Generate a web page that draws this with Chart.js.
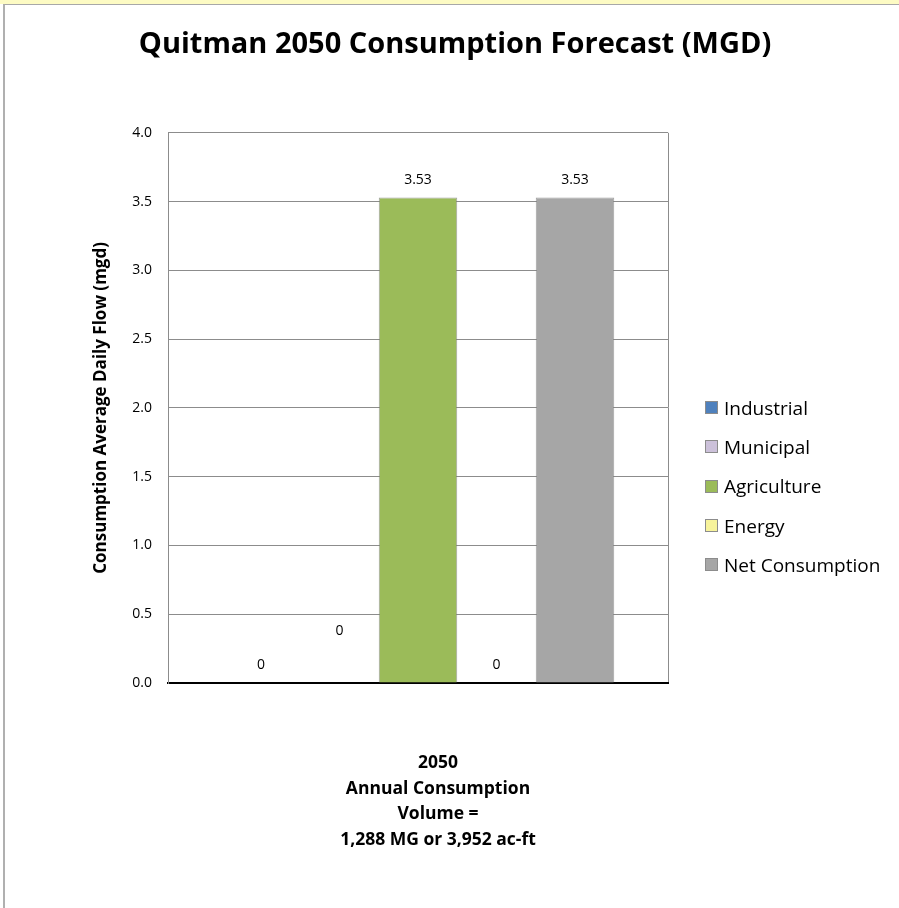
<!DOCTYPE html>
<html>
<head>
<meta charset="utf-8">
<script src="https://cdn.jsdelivr.net/npm/chart.js@4/dist/chart.umd.min.js"></script>
<style>
    html, body { margin: 0; padding: 0; background: #fff; }
    #wrap { position: relative; width: 899px; height: 908px; overflow: hidden; font-family: "Open Sans", sans-serif; }
    #strip { position: absolute; left: 0; top: 0; width: 899px; height: 4px; background: #fdfbc4; }
    #frame { position: absolute; left: 3px; top: 4px; width: 900px; height: 910px; border-left: 2px solid #b0b0b0; border-top: 1px solid #a8a8a8; }
    #grafico { position: absolute; left: 0; top: 0; }
    #legenda { position: absolute; left: 705px; top: 388px; }
    .item { height: 39.3px; display: flex; align-items: center; font-size: 19px; color: #000; white-space: nowrap; }
    .caixa { width: 13px; height: 13px; border: 1px solid #8c8c8c; margin-right: 6px; box-sizing: border-box; }
</style>
</head>
<body>
<div id="wrap">
    <div id="strip"></div>
    <div id="frame"></div>
    <canvas id="grafico" width="899" height="908"></canvas>
    <div id="legenda"></div>
</div>
<script>
// Dados
const categorias = [['2050', 'Annual Consumption', 'Volume =', '1,288 MG or 3,952 ac-ft']];
const series = ['Industrial', 'Municipal', 'Agriculture', 'Energy', 'Net Consumption'];
const valores = [[0], [0], [3.53], [0], [3.53]];
const cores = ['#4f81bd', '#ccc1da', '#9bbb59', '#f7f39b', '#a6a6a6'];
const yTicks = [0, 0.5, 1.0, 1.5, 2.0, 2.5, 3.0, 3.5, 4.0];

// Deslocamento vertical dos rótulos de valor (o de Municipal fica mais alto no original)
const elevacaoRotulo = [18, 52, 17, 18, 17];
const FONTE = 'Open Sans';

// Plugin simples para escrever o valor acima de cada barra.
const rotulosValor = {
    id: 'rotulosValor',
    afterDatasetsDraw(chart) {
        const ctx = chart.ctx;
        ctx.save();
        ctx.font = '14px "' + FONTE + '"';
        ctx.fillStyle = '#000';
        ctx.textAlign = 'center';
        ctx.textBaseline = 'middle';
        chart.data.datasets.forEach((ds, i) => {
            chart.getDatasetMeta(i).data.forEach((bar, j) => {
                ctx.fillText(String(ds.data[j]), bar.x, bar.y - elevacaoRotulo[i]);
            });
        });
        ctx.restore();
    }
};

const ctx = document.getElementById('grafico').getContext('2d');
new Chart(ctx, {
    type: 'bar',
    data: {
        labels: categorias,
        datasets: series.map((nome, i) => ({
            label: nome,
            data: valores[i],
            backgroundColor: cores[i],
            borderColor: 'rgba(120, 120, 120, 0.7)',
            borderWidth: 1,
            categoryPercentage: 0.785,
            barPercentage: 1.0
        }))
    },
    options: {
        responsive: false,
        animation: false,
        layout: { padding: { left: 11, right: 0, top: 0, bottom: 0 } },
        plugins: {
            legend: { display: false },
            tooltip: { enabled: false },
            title: {
                display: true,
                text: 'Quitman 2050 Consumption Forecast (MGD)',
                color: '#000',
                font: { family: FONTE, size: 29, weight: 'bold', lineHeight: 1.2 },
                padding: { top: 27, bottom: 71 }
            }
        },
        scales: {
            x: {
                grid: { color: '#8c8c8c', lineWidth: 1, drawTicks: false },
                border: { color: '#000', width: 2 },
                ticks: {
                    color: '#000',
                    font: { family: FONTE, size: 17.5, weight: 'bold', lineHeight: 1.47 },
                    padding: 67,
                    labelOffset: 20,
                    maxRotation: 0
                },
                afterFit(scale) { scale.height = 225; }
            },
            y: {
                min: 0,
                max: 4,
                afterBuildTicks(scale) { scale.ticks = yTicks.map(v => ({ value: v })); },
                grid: { color: '#8c8c8c', lineWidth: 1, drawTicks: false },
                border: { color: '#8c8c8c', width: 1 },
                ticks: {
                    color: '#000',
                    font: { family: FONTE, size: 14 },
                    padding: 16,
                    callback: v => v.toFixed(1)
                },
                title: {
                    display: true,
                    text: 'Consumption Average Daily Flow (mgd)',
                    color: '#000',
                    font: { family: FONTE, size: 17, weight: 'bold', lineHeight: 1.2 },
                    padding: { top: 80, bottom: 0 }
                },
                afterFit(scale) { scale.width = 157; }
            },
            // eixo vazio à direita só para reservar o espaço da legenda
            espaco: {
                type: 'linear',
                position: 'right',
                display: true,
                grid: { display: false, drawTicks: false },
                border: { display: false },
                ticks: { display: false },
                afterFit(scale) { scale.width = 231; }
            }
        }
    },
    plugins: [rotulosValor]
});

// Legenda em HTML, à direita do gráfico
const legenda = document.getElementById('legenda');
series.forEach((nome, i) => {
    const item = document.createElement('div');
    item.className = 'item';
    const caixa = document.createElement('span');
    caixa.className = 'caixa';
    caixa.style.background = cores[i];
    item.appendChild(caixa);
    item.appendChild(document.createTextNode(nome));
    legenda.appendChild(item);
});
</script>
</body>
</html>
